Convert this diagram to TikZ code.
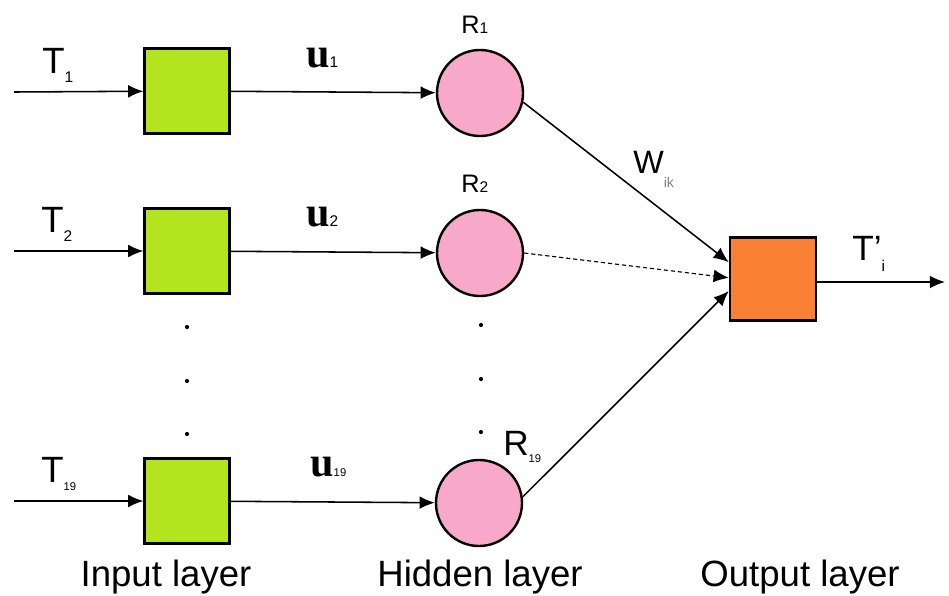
\documentclass[tikz,border=0pt]{standalone}
\usepackage{fontspec}
\setmainfont{Liberation Sans}
\newfontfamily\ufont{Liberation Serif}
\usetikzlibrary{arrows.meta, positioning}
\definecolor{ingreen}{RGB}{180,228,30}
\definecolor{hidpink}{RGB}{248,168,200}
\definecolor{outorange}{RGB}{250,128,52}
% small index set beside a letter: size, lowering, text
\newcommand{\lowsub}[3]{\raisebox{-#2}{\fontsize{#1}{#1}\selectfont #3}}
\tikzset{
  x=0.025cm, y=-0.025cm, % one unit is one pixel, y runs downwards
  >={Latex[length=0.38cm, width=0.32cm]}, % filled triangle heads
  every edge/.style={draw, ->, line width=1.1pt}, % all connections are arrows
  inbox/.style={rectangle, draw, line width=1.7pt, fill=ingreen, minimum size=2.12cm},
  outbox/.style={rectangle, draw, line width=1.7pt, fill=outorange, minimum width=2.15cm, minimum height=2.08cm},
  layertext/.style={font=\fontsize{26}{26}\selectfont},
  lab/.style={anchor=base west, inner sep=0pt}, % labels are placed by their baseline
  tlabel/.style={lab, font=\fontsize{26}{26}\selectfont},
  ulabel/.style={lab, font=\fontsize{30}{30}\selectfont\ufont\bfseries},
  rlabel/.style={lab, font=\fontsize{18}{18}\selectfont},
}

\begin{document}
\begin{tikzpicture} [hidnode/.style={circle, draw, line width=1.7pt, fill=hidpink, minimum size=2.15cm}]
    \useasboundingbox (0,0) rectangle (949,595);

    % input layer
    \node[inbox] (IN1) at (187,91) {};
    \node[inbox] (IN2) at (187,251) {};
    \node[inbox] (IN19) at (187,501) {};

    % hidden layer
    \node[hidnode] (R1) at (480,93) {};
    \node[hidnode] (R2) at (480,253) {};
    \node[hidnode] (R19) at (479,503) {};

    % output layer
    \node[outbox] (OUT) at (773,279) {};

    \coordinate (T1) at (14,92);
    \coordinate (T2) at (14,251);
    \coordinate (T19) at (14,501);
    \coordinate (TOUT) at (945,282);

    \draw (T1) edge (IN1)
          (T2) edge (IN2)
          (T19) edge (IN19)

          (IN1) edge (R1)
          (IN2) edge (R2)
          (IN19) edge (R19)

          (R1.-12) edge ([yshift=0.42cm]OUT.west)
          (R2.east) edge[densely dashed, line width=0.8pt] ([yshift=0.03cm]OUT.west)
          (R19.8) edge ([yshift=-0.3cm]OUT.west)

          (OUT.east |- TOUT) edge (TOUT)
          ;

    % dots between the rows
    \foreach \y [count=\i] in {327,381,434} {
      \fill (187,\y) circle (1.5pt) coordinate (dotin\i);
      \fill (481,\y-2) circle (1.5pt) coordinate (dothid\i);
    }

    % labels
    \node[tlabel] (labT1) at (42,73) {T\lowsub{11}{6.5pt}{1}};
    \node[tlabel] (labT2) at (41,232) {T\lowsub{11}{6.5pt}{2}};
    \node[tlabel] (labT19) at (41,482) {T\lowsub{8}{6pt}{19}};

    \node[ulabel] (labu1) at (306,67) {u\lowsub{11}{0pt}{\normalfont 1}};
    \node[ulabel] (labu2) at (306,226) {u\lowsub{11}{0pt}{\normalfont 2}};
    \node[ulabel] (labu19) at (310,476) {u\lowsub{8}{0pt}{\normalfont 19}};

    \node[rlabel] (labR1) at (461,33) {R\lowsub{11}{0pt}{1}};
    \node[rlabel] (labR2) at (461,192) {R\lowsub{11}{0pt}{2}};
    \node[rlabel, font=\fontsize{25}{25}\selectfont] (labR19) at (503,455) {R\lowsub{8}{5.5pt}{19}};

    \node[lab, font=\fontsize{23}{23}\selectfont] (labW) at (633,173) {W\lowsub{10}{10pt}{\textcolor{gray}{ik}}};
    \node[tlabel, font=\fontsize{25}{25}\selectfont] (labTout) at (852,260) {T'\lowsub{11}{8pt}{i}};

    \node[layertext] (labin) at (166,577) {Input layer};
    \node[layertext] (labhid) at (480,577) {Hidden layer};
    \node[layertext] (labout) at (800,577) {Output layer};
  \end{tikzpicture}
\end{document}
